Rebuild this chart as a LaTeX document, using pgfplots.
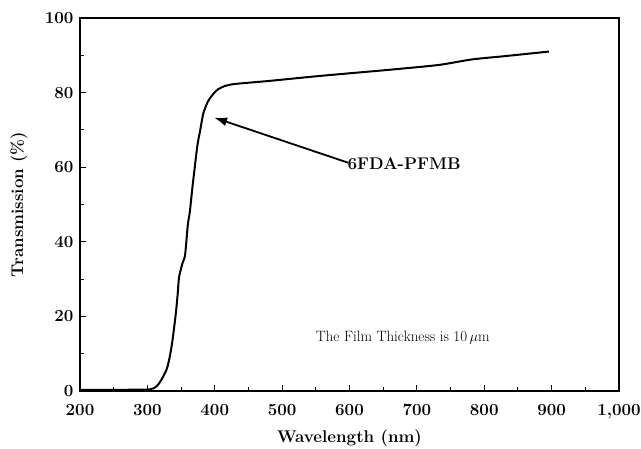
\documentclass[border=0pt]{standalone}
\usepackage{pgfplots}
\pgfplotsset{compat=1.18}
\usetikzlibrary{arrows.meta}
\begin{document}
\begin{tikzpicture}
\begin{axis}[
  scale only axis,
  width=539bp, height=373bp,
  xmin=200, xmax=1000, ymin=0, ymax=100,
  xtick={200,300,...,1000}, minor xtick={250,350,...,950},
  ytick={0,20,...,100}, minor ytick={10,30,...,90},
  tick pos=left, tick align=inside,
  major tick length=6bp, minor tick length=4bp,
  every tick/.style={black, line width=1bp},
  axis line style={line width=2.2bp},
  /pgf/number format/assume math mode=true,
  /pgf/number format/1000 sep={,},
  ticklabel style={font=\fontsize{17}{19}\selectfont\bfseries},
  xticklabel style={yshift=-10bp},
  yticklabel style={xshift=-3bp},
  xlabel={Wavelength (nm)},
  ylabel={Transmission (\%)},
  every axis x label/.style={at={(rel axis cs:0.5,0)}, anchor=center, yshift=-47bp, font=\fontsize{17}{19}\selectfont\bfseries},
  every axis y label/.style={at={(rel axis cs:0,0.5)}, anchor=center, xshift=-61bp, rotate=90, font=\fontsize{17}{19}\selectfont\bfseries},
  clip=false,
]
\coordinate (O) at (rel axis cs:0,0);
\addplot[black, line width=2bp, smooth, tension=0.4] coordinates {
(200,0.3) (250,0.3) (300,0.4) (305,0.5) (310,0.8) (314,1.3) (318,2.2) (322,3.4)
(329,6.0) (333,9) (337,13.2) (342,20.4) (345,26) (347,30.5) (352,34.2) (356,36.5)
(360,44.5) (363,48) (367,54.8) (374,65.5) (378,69.5) (383,74.4) (389,77.3) (393,78.5)
(399,79.9) (405,80.9) (414,81.7) (429,82.3) (479,83.1) (558,84.5) (658,86.1)
(732,87.4) (782,88.9) (832,89.8) (896,91.0)
};
\draw[-{Latex[length=13bp,width=9bp]}, line width=1.8bp] (axis cs:598,61.2) -- (axis cs:399,73.3);
\node[anchor=west, inner sep=0pt, font=\fontsize{17}{19}\selectfont\bfseries] at (axis cs:597,61) {6FDA-PFMB};
\node[anchor=center, inner sep=0pt, font=\fontsize{15}{17}\selectfont] at (axis cs:679,14.2) {The Film Thickness is 10\,$\mu$m};
\end{axis}
\pgfresetboundingbox
\path (O) ++(-80bp,-58bp) rectangle ++(641bp,449bp);
\end{tikzpicture}
\end{document}
